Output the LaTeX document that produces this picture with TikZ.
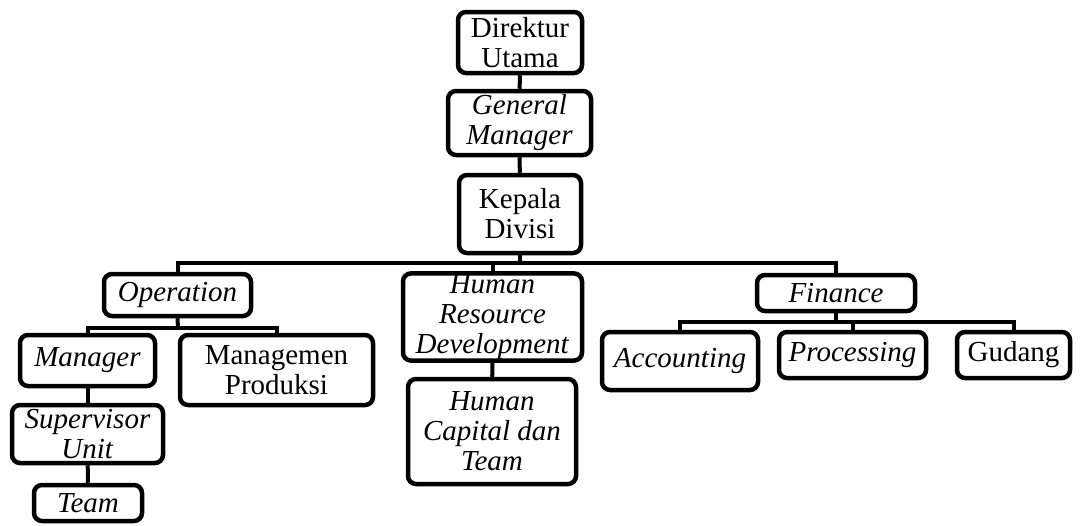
\documentclass[tikz,border=0pt]{standalone}
\usepackage{fontspec}
\setmainfont{Liberation Serif}
\usetikzlibrary{positioning}

\tikzset{
  unit/.style={draw, line width=4.5pt, rounded corners=8pt, align=center,
    inner sep=1pt, font=\fontsize{29}{30}\selectfont},
  link/.style={line width=4pt}
}

\begin{document}
\begin{tikzpicture}[x=1pt,y=-1pt]

\useasboundingbox (0,0) rectangle (1082,525);

\node[unit, minimum width=124, minimum height=61] (dir) at (520,42.5) {Direktur\\Utama};
\node[unit, minimum width=143, minimum height=64] (gm) at (519.5,123) {\textit{General}\\\textit{Manager}};
\node[unit, minimum width=122, minimum height=78] (kd) at (520,214) {Kepala\\Divisi};

\node[unit, minimum width=147, minimum height=42] (op) at (177.5,295) {\textit{Operation}};
\node[unit, minimum width=179, minimum height=86] (hrd) at (492.5,317) {\textit{Human}\\\textit{Resource}\\\textit{Development}};
\node[unit, minimum width=158, minimum height=36] (fin) at (836,293) {\textit{Finance}};

\node[unit, minimum width=135, minimum height=51] (mgr) at (87.5,360.5) {\textit{Manager}};
\node[unit, minimum width=193, minimum height=70] (mp) at (276.5,370) {Managemen\\Produksi};
\node[unit, minimum width=151, minimum height=58] (sup) at (87.5,434) {\textit{Supervisor}\\\textit{Unit}};
\node[unit, minimum width=108, minimum height=36] (team) at (88,503) {\textit{Team}};

\node[unit, minimum width=168, minimum height=105] (hct) at (492,431.5) {\textit{Human}\\\textit{Capital dan}\\\textit{Team}};

\node[unit, minimum width=156, minimum height=58] (acc) at (680,361) {\textit{Accounting}};
\node[unit, minimum width=147, minimum height=46] (proc) at (852.5,355) {\textit{Processing}};
\node[unit, minimum width=113, minimum height=46] (gud) at (1013.5,355) {Gudang};

% bus lines
\coordinate (bus) at (520,263);
\coordinate (opbus) at (178,328);
\coordinate (finbus) at (836,322);

% top chain
\draw[link] (dir) -- (gm);
\draw[link] (gm) -- (kd);
\draw[link] (kd.south) -- (bus);
\draw[link] (op.north) -- (op.north |- bus) -- (fin.north |- bus) -- (fin.north);
\draw[link] (hrd.north |- bus) -- (hrd.north);

% operation
\draw[link] (op.south) -- (opbus);
\draw[link] (mgr.north) -- (mgr.north |- opbus) -- (mp.north |- opbus) -- (mp.north);
\draw[link] (mgr) -- (sup);
\draw[link] (sup) -- (team);

% human resource
\draw[link] (hrd) -- (hct);

% finance
\draw[link] (fin.south) -- (finbus);
\draw[link] (acc.north) -- (acc.north |- finbus) -- (gud.north |- finbus) -- (gud.north);
\draw[link] (proc.north |- finbus) -- (proc.north);

\end{tikzpicture}
\end{document}
